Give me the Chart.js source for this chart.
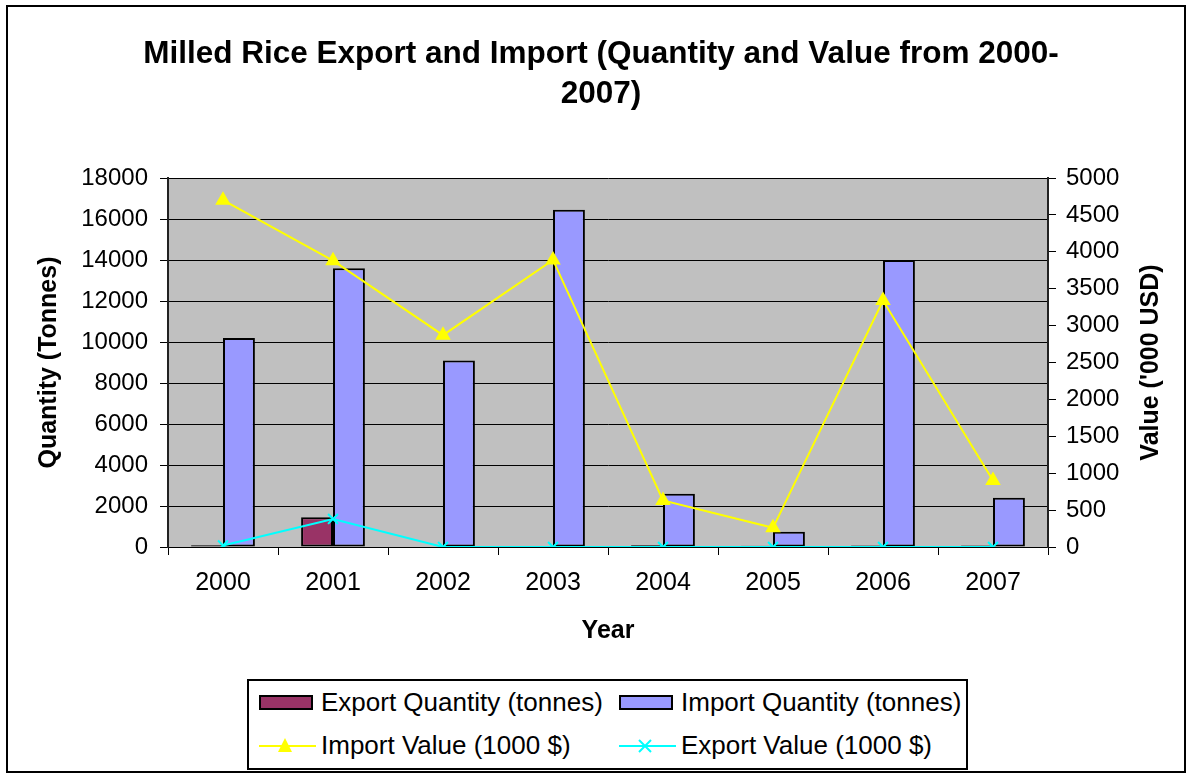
<!DOCTYPE html>
<html>
<head>
<meta charset="utf-8">
<title>Milled Rice Export and Import</title>
<script src="https://cdn.jsdelivr.net/npm/chart.js@4"></script>
<style>
    body { margin: 0; background: #fff; font-family: "Liberation Sans", Arial, sans-serif; }
    #frame { position: absolute; left: 6px; top: 5px; width: 1176px; height: 764px; border: 2px solid #000; }
    #chart { position: absolute; left: 0; top: 0; }
    #legend { position: absolute; left: 247px; top: 679px; width: 717px; height: 87px; border: 2px solid #000; background: #fff; }
    .item { position: absolute; height: 30px; line-height: 30px; font-size: 26px; color: #000; white-space: nowrap; }
    .item span, .item svg { position: absolute; }
</style>
</head>
<body>
<div id="frame"></div>
<canvas id="chart" width="1188" height="773"></canvas>
<div id="legend"></div>
<script>
// values
const years = ["2000", "2001", "2002", "2003", "2004", "2005", "2006", "2007"];
const exportQuantity = [80, 1450, 0, 0, 80, 60, 70, 70];
const importQuantity = [10200, 13600, 9100, 16450, 2600, 750, 14000, 2400];
const importValue = [4700, 3880, 2870, 3890, 630, 260, 3340, 900];
const exportValue = [20, 380, 0, 0, 0, 0, 0, 0];

const quantityTicks = { min: 0, max: 18000, step: 2000 };
const valueTicks = { min: 0, max: 5000, step: 500 };

const font = '"Liberation Sans", Arial, sans-serif';
Chart.defaults.font.family = font;
Chart.defaults.color = "#000";

const series = [
    { label: "Export Quantity (tonnes)", kind: "bar", data: exportQuantity, color: "#993366" },
    { label: "Import Quantity (tonnes)", kind: "bar", data: importQuantity, color: "#9999FF" },
    { label: "Import Value (1000 $)", kind: "line", data: importValue, color: "#FFFF00", marker: "triangle" },
    { label: "Export Value (1000 $)", kind: "line", data: exportValue, color: "#00FFFF", marker: "crossRot" },
];

// grey plot area like the spreadsheet default
const plotArea = {
    id: "plotArea",
    beforeDraw: (chart) => {
        const { ctx, chartArea: a } = chart;
        ctx.save();
        ctx.fillStyle = "#C0C0C0";
        ctx.fillRect(a.left, a.top, a.right - a.left, a.bottom - a.top);
        ctx.restore();
    },
};

// right axis title reads bottom to top, like the left one
const rightTitle = {
    id: "rightTitle",
    afterDraw: (chart) => {
        const { ctx, chartArea: a } = chart;
        ctx.save();
        ctx.translate(chart.scales.y1.right - 37, (a.top + a.bottom) / 2);
        ctx.rotate(-Math.PI / 2);
        ctx.font = "bold 25px " + font;
        ctx.fillStyle = "#000";
        ctx.textAlign = "center";
        ctx.textBaseline = "middle";
        ctx.fillText("Value ('000 USD)", 0, 0);
        ctx.restore();
    },
};

const plain = (value) => String(value);

const chart = new Chart(document.getElementById("chart"), {
    type: "bar",
    data: {
        labels: years,
        datasets: series.map((s) => s.kind === "bar" ? {
            type: "bar",
            label: s.label,
            data: s.data,
            yAxisID: "y",
            backgroundColor: s.color,
            borderColor: "#000",
            borderWidth: 2,
            borderSkipped: false,
            barPercentage: 1,
            categoryPercentage: 0.58,
            order: 2,
        } : {
            type: "line",
            label: s.label,
            data: s.data,
            yAxisID: "y1",
            borderColor: s.color,
            backgroundColor: s.color,
            borderWidth: 2,
            tension: 0,
            pointStyle: s.marker,
            pointRadius: 7,
            pointBorderColor: s.color,
            pointBackgroundColor: s.color,
            pointBorderWidth: 2,
            order: 1,
        }),
    },
    options: {
        responsive: false,
        animation: false,
        devicePixelRatio: 1,
        layout: { padding: { left: 14, right: 0, top: 0, bottom: 0 } },
        plugins: {
            legend: { display: false },
            tooltip: { enabled: false },
            title: {
                display: true,
                text: ["Milled Rice Export and Import (Quantity and Value from 2000-", "2007)"],
                font: { size: 31.5, weight: "bold", lineHeight: 1.27 },
                color: "#000",
                padding: { top: 34, bottom: 64 },
            },
        },
        scales: {
            x: {
                offset: true,
                grid: { offset: true, display: true, drawOnChartArea: false, drawTicks: true, tickLength: 8, color: "#000000", lineWidth: 1 },
                border: { display: true, color: "#000000", width: 1 },
                ticks: { font: { size: 25 }, padding: 13, maxRotation: 0 },
                title: { display: true, text: "Year", font: { size: 25, weight: "bold" }, padding: { top: 0, bottom: 127 } },
                afterFit: (scale) => { scale.height = 226; },
            },
            y: {
                position: "left",
                min: quantityTicks.min,
                max: quantityTicks.max,
                grid: { display: true, color: "#000000", lineWidth: 1, tickLength: 8, drawTicks: true },
                border: { display: true, color: "#222222", width: 2 },
                ticks: { stepSize: quantityTicks.step, font: { size: 24 }, padding: 12, callback: plain },
                title: { display: true, text: "Quantity (Tonnes)", font: { size: 25, weight: "bold" }, padding: { top: 20, bottom: 0 } },
                afterFit: (scale) => { scale.width = 154; },
            },
            y1: {
                position: "right",
                min: valueTicks.min,
                max: valueTicks.max,
                grid: { display: true, drawOnChartArea: false, tickLength: 8, drawTicks: true, color: "#000000", lineWidth: 1 },
                border: { display: true, color: "#222222", width: 2 },
                ticks: { stepSize: valueTicks.step, font: { size: 24 }, padding: 10, callback: plain },
                title: { display: false },
                afterFit: (scale) => { scale.width = 140; },
            },
        },
    },
    plugins: [plotArea, rightTitle],
});

// legend in two columns, built from the same series list
const legendSpots = [
    { left: 10, top: 6 }, { left: 370, top: 6 },
    { left: 10, top: 49 }, { left: 370, top: 49 },
];
const legend = document.getElementById("legend");
series.forEach((s, i) => {
    const item = document.createElement("div");
    item.className = "item";
    item.style.left = legendSpots[i].left + "px";
    item.style.top = legendSpots[i].top + "px";
    let swatch;
    if (s.kind === "bar") {
        swatch = `<svg width="56" height="30" style="left:0;top:0"><rect x="1" y="9" width="52" height="13" fill="${s.color}" stroke="#000" stroke-width="2"/></svg>`;
    } else {
        const mark = s.marker === "triangle"
            ? `<polygon points="26,8 33,22 19,22" fill="${s.color}"/>`
            : `<path d="M20,10 L32,22 M32,10 L20,22" stroke="${s.color}" stroke-width="2"/>`;
        swatch = `<svg width="60" height="30" style="left:0;top:0"><line x1="0" y1="16" x2="57" y2="16" stroke="${s.color}" stroke-width="2"/>${mark}</svg>`;
    }
    item.innerHTML = swatch + `<span style="left:62px;top:0">${s.label}</span>`;
    legend.appendChild(item);
});
</script>
</body>
</html>
